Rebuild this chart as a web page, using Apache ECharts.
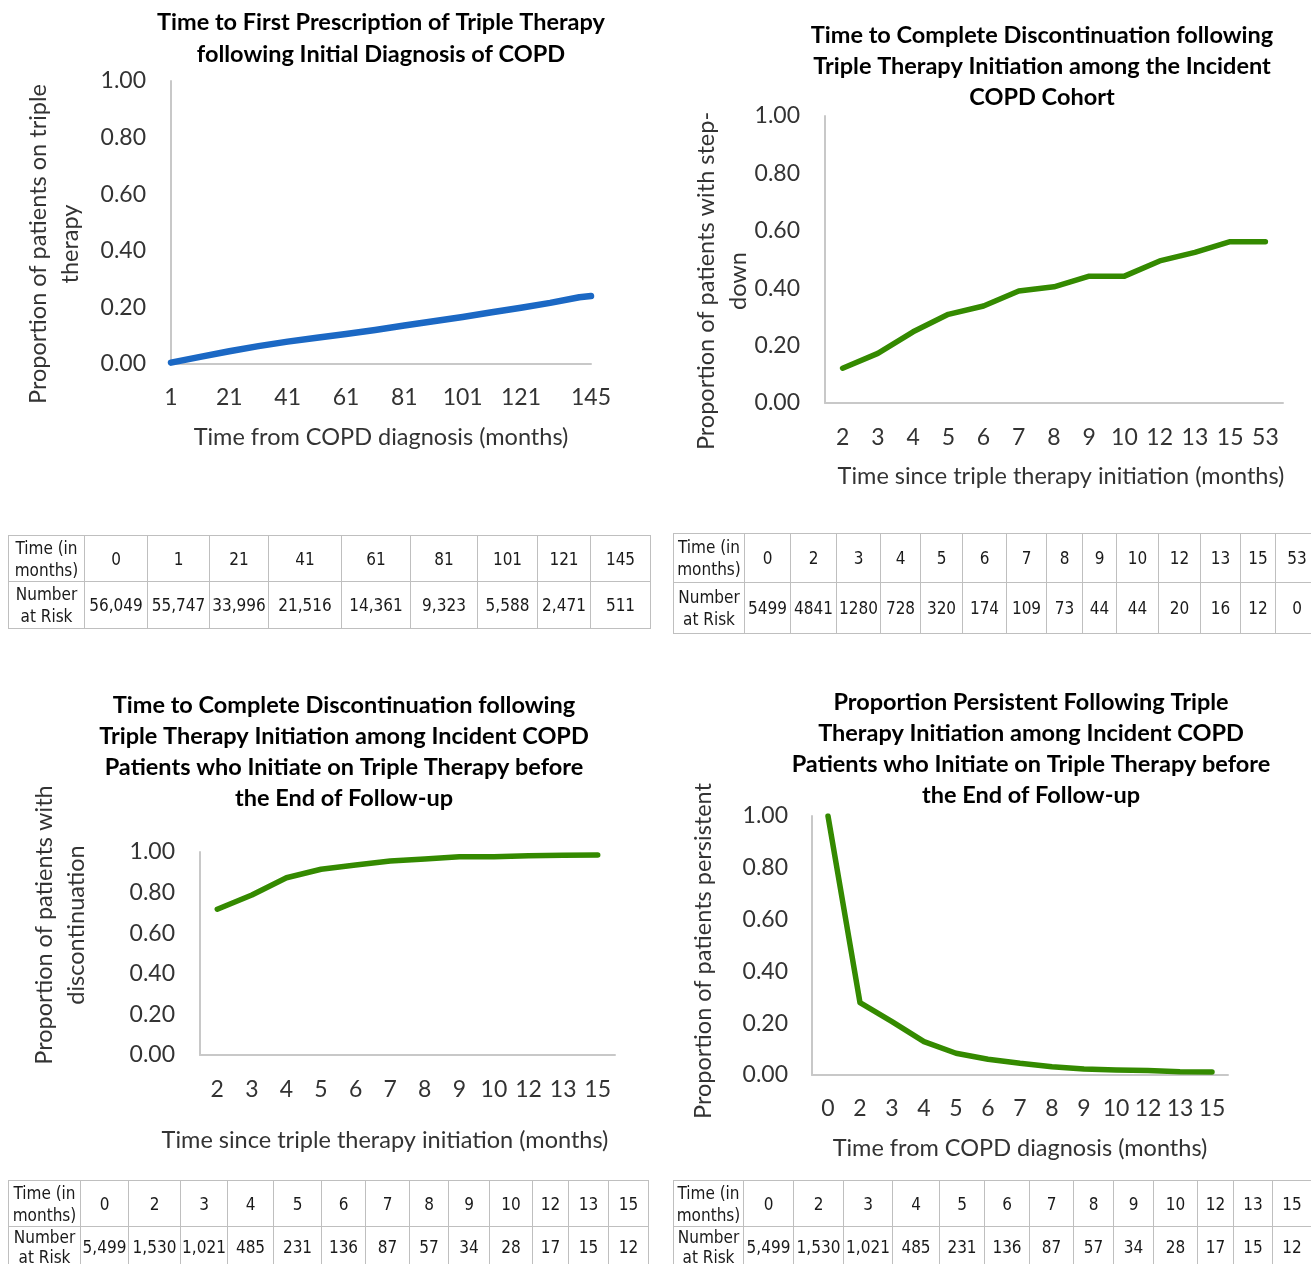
<!DOCTYPE html>
<html><head><meta charset="utf-8">
<script src="https://cdn.jsdelivr.net/npm/echarts@6/dist/echarts.min.js"></script>
<style>
html,body{margin:0;padding:0;background:#fff;overflow:hidden;}
#wrap{position:relative;width:1311px;height:1264px;overflow:hidden;}
#chart{position:absolute;left:0;top:0;width:1311px;height:1264px;}
.tbl{position:absolute;border-collapse:collapse;font-family:"Liberation Sans Narrow","DejaVu Sans Condensed",Lato,sans-serif;font-size:17px;color:#1a1a1a;table-layout:fixed;}
.tbl td{border:1px solid #bfbfbf;text-align:center;vertical-align:middle;padding:0;line-height:22px;box-sizing:border-box;white-space:nowrap;}
.tbl.low tr:nth-child(3) td{line-height:20px;}
</style></head>
<body><div id="wrap"><div id="chart"></div></div>
<script>
// ---------- DATA ----------
// Chart 1: Time to first prescription of triple therapy (blue)
const c1Months = [1, 11, 21, 31, 41, 51, 61, 71, 81, 91, 101, 111, 121, 131, 141, 145];
const c1Values = [0.005, 0.025, 0.045, 0.063, 0.079, 0.093, 0.106, 0.120, 0.136, 0.151, 0.166, 0.183, 0.199, 0.216, 0.236, 0.240];
const c1TickLabels = [1, 21, 41, 61, 81, 101, 121, 145];

// Chart 2: Complete discontinuation, incident COPD cohort
const c2Cats = ['2','3','4','5','6','7','8','9','10','12','13','15','53'];
const c2Values = [0.121, 0.173, 0.248, 0.309, 0.338, 0.390, 0.405, 0.442, 0.442, 0.495, 0.525, 0.562, 0.562];

// Chart 3: Complete discontinuation, initiators before end of follow-up
const c3Cats = ['2','3','4','5','6','7','8','9','10','12','13','15'];
const c3Values = [0.718, 0.788, 0.873, 0.915, 0.936, 0.956, 0.965, 0.977, 0.977, 0.982, 0.984, 0.985];

// Chart 4: Proportion persistent
const c4Cats = ['0','2','3','4','5','6','7','8','9','10','12','13','15'];
const c4Values = [1.0, 0.279, 0.206, 0.129, 0.084, 0.061, 0.045, 0.032, 0.023, 0.019, 0.017, 0.013, 0.012];

// Tables (number at risk)
const t1Time = ['0','1','21','41','61','81','101','121','145'];
const t1Risk = ['56,049','55,747','33,996','21,516','14,361','9,323','5,588','2,471','511'];
const t2Time = ['0','2','3','4','5','6','7','8','9','10','12','13','15','53'];
const t2Risk = ['5499','4841','1280','728','320','174','109','73','44','44','20','16','12','0'];
const t3Time = ['0','2','3','4','5','6','7','8','9','10','12','13','15'];
const t3Risk = ['5,499','1,530','1,021','485','231','136','87','57','34','28','17','15','12'];
const t4Time = ['0','2','3','4','5','6','7','8','9','10','12','13','15'];
const t4Risk = ['5,499','1,530','1,021','485','231','136','87','57','34','28','17','15','12'];

// ---------- TABLE LAYOUT ----------
function buildTable(left, top, borders, rowH, times, risks, extraClass){
  const t = document.createElement('table');
  t.className = 'tbl' + (extraClass ? ' ' + extraClass : '');
  t.style.left = left + 'px';
  t.style.top = top + 'px';
  const widths = [];
  for (let i = 1; i < borders.length; i++) widths.push(borders[i] - borders[i-1]);
  t.style.width = (borders[borders.length-1] - borders[0]) + 'px';
  const cg = document.createElement('colgroup');
  widths.forEach(w => { const c = document.createElement('col'); c.style.width = w + 'px'; cg.appendChild(c); });
  t.appendChild(cg);
  const rows = [['Time (in<br>months)'].concat(times), ['Number<br>at Risk'].concat(risks)];
  rows.forEach((r, ri) => {
    const tr = document.createElement('tr');
    tr.style.height = rowH[ri] + 'px';
    r.forEach(v => { const td = document.createElement('td'); td.innerHTML = v; tr.appendChild(td); });
    t.appendChild(tr);
  });
  document.getElementById('wrap').appendChild(t);
}
buildTable(8, 535, [8,84,147,209,268,341,410,477,537,590,650], [46,47], t1Time, t1Risk);
buildTable(673, 533, [673,744,790,836,880,920,962,1006,1046,1082,1116,1158,1200,1240,1275,1318], [49,51], t2Time, t2Risk);
buildTable(8, 1180, [8,80,128,180,227,273,321,365,409,448,489,532,568,608,648], [46,40], t3Time, t3Risk, 'low');
buildTable(673, 1180, [673,743,793,843,892,939,984,1029,1073,1113,1153,1197,1233,1272,1311], [46,40], t4Time, t4Risk, 'low');

// ---------- CHART ----------
const FONT = 'Lato, "Open Sans", sans-serif';
const labelColor = '#333';
const axisCol = '#c8c8c8';
const blue = '#1b68c4';
const green = '#348a00';

function yAxisCfg(gi, margin){
  return {type:'value', gridIndex:gi, min:0, max:1, interval:0.2,
    axisLine:{show:true, lineStyle:{color:axisCol, width:2}}, axisTick:{show:false}, splitLine:{show:false},
    axisLabel:{margin:margin, fontFamily:FONT, fontSize:23, color:labelColor, formatter:v => v.toFixed(2)}};
}
function catAxisCfg(gi, cats, margin){
  return {type:'category', gridIndex:gi, data:cats, boundaryGap:true,
    axisLine:{show:true, lineStyle:{color:axisCol, width:2}}, axisTick:{show:false},
    axisLabel:{margin:margin, interval:0, fontFamily:FONT, fontSize:23, color:labelColor}};
}
function txt(x, y, text, opts){
  return Object.assign({type:'text', x:x, y:y, silent:true,
    style:{text:text, font:'23.5px ' + FONT, fill:labelColor, align:'center', verticalAlign:'middle', lineHeight:32}}, opts || {});
}
function titleCfg(text, cx, top, lh){
  return {text:text, left:cx, top:top, textAlign:'center', padding:0,
    textStyle:{fontFamily:FONT, fontWeight:'bold', fontSize:23.5, color:'#000', lineHeight:lh}};
}

const option = {
  animation:false,
  backgroundColor:'#fff',
  title:[
    titleCfg('Time to First Prescription of Triple Therapy\nfollowing Initial Diagnosis of COPD', 381, 6, 32),
    titleCfg('Time to Complete Discontinuation following\nTriple Therapy Initiation among the Incident\nCOPD Cohort', 1042, 20, 31),
    titleCfg('Time to Complete Discontinuation following\nTriple Therapy Initiation among Incident COPD\nPatients who Initiate on Triple Therapy before\nthe End of Follow-up', 344, 690, 31),
    titleCfg('Proportion Persistent Following Triple\nTherapy Initiation among Incident COPD\nPatients who Initiate on Triple Therapy before\nthe End of Follow-up', 1031, 687, 31)
  ],
  grid:[
    {left:171, top:81, width:420, height:283},
    {left:825, top:116, width:458, height:287},
    {left:200, top:852, width:415, height:203},
    {left:812, top:816, width:416, height:259}
  ],
  xAxis:[
    {type:'value', gridIndex:0, min:1, max:145,
      axisLine:{show:true, lineStyle:{color:axisCol, width:2}}, axisTick:{show:false}, splitLine:{show:false},
      axisLabel:{margin:22, fontFamily:FONT, fontSize:23, color:labelColor, customValues:c1TickLabels, showMinLabel:true, showMaxLabel:true}},
    catAxisCfg(1, c2Cats, 23),
    catAxisCfg(2, c3Cats, 23),
    catAxisCfg(3, c4Cats, 22)
  ],
  yAxis:[ yAxisCfg(0, 25), yAxisCfg(1, 25), yAxisCfg(2, 25), yAxisCfg(3, 24) ],
  series:[
    {type:'line', xAxisIndex:0, yAxisIndex:0, data:c1Months.map((m,i)=>[m, c1Values[i]]), showSymbol:false, smooth:false,
      lineStyle:{color:blue, width:6.5, cap:'round', join:'round'}},
    {type:'line', xAxisIndex:1, yAxisIndex:1, data:c2Values, showSymbol:false,
      lineStyle:{color:green, width:5.5, cap:'round', join:'round'}},
    {type:'line', xAxisIndex:2, yAxisIndex:2, data:c3Values, showSymbol:false,
      lineStyle:{color:green, width:5.5, cap:'round', join:'round'}},
    {type:'line', xAxisIndex:3, yAxisIndex:3, data:c4Values, showSymbol:false,
      lineStyle:{color:green, width:5.5, cap:'round', join:'round'}}
  ],
  graphic:[
    // x-axis names
    txt(381, 437, 'Time from COPD diagnosis (months)'),
    txt(1061, 476, 'Time since triple therapy initiation (months)'),
    txt(385, 1140, 'Time since triple therapy initiation (months)'),
    txt(1020, 1148, 'Time from COPD diagnosis (months)'),
    // y-axis names (rotated)
    txt(54, 244, 'Proportion of patients on triple\ntherapy', {rotation:Math.PI/2}),
    txt(722, 281, 'Proportion of patients with step-\ndown', {rotation:Math.PI/2}),
    txt(60, 925, 'Proportion of patients with\ndiscontinuation', {rotation:Math.PI/2}),
    txt(703, 951, 'Proportion of patients persistent', {rotation:Math.PI/2})
  ]
};
const chart = echarts.init(document.getElementById('chart'), null, {renderer:'canvas'});
chart.setOption(option);
</script>
</body></html>
